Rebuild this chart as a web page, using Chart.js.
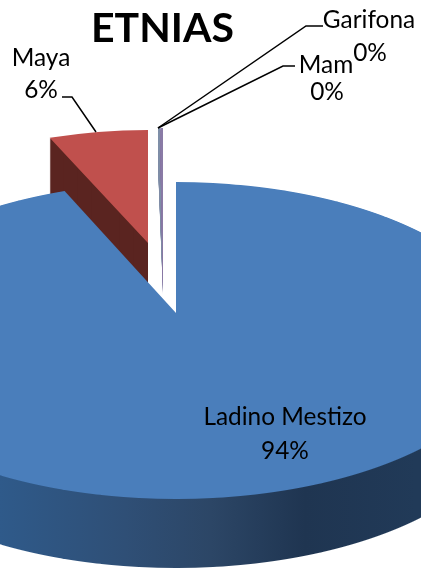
<!DOCTYPE html>
<html>
<head>
<meta charset="utf-8">
<style>
  html, body { margin: 0; padding: 0; background: #fff; overflow: hidden; }
  #pie1 { display: block; }
</style>
<script src="https://cdn.jsdelivr.net/npm/chart.js@4"></script>
</head>
<body>
<canvas id="pie1" width="421" height="569"></canvas>
<script>
var categories = ["Ladino Mestizo", "Maya", "Mam", "Garifona"];
var shares = [93.6, 6.0, 0.2, 0.2];
var sliceColors = ["#4a7ebb", "#c0504d", "#7f8fa8", "#8a7ba6"];
var chartTitle = "ETNIAS";

// perspective of the big slice: apex on screen, then the projective terms
var R = 300, X0 = 176, Y0 = 313, PA = 153.7, PB = 330, PG = -0.1735;
var FRONT_DEPTH = 69;
// flat placement of the exploded slices
var place = {
  1: { x: 148, y: 243, sx: 0.89, sy: 0.377, depth: 56 },
  2: { x: 163, y: 258, sx: 0.67, sy: 0.433, depth: 36 },
  3: { x: 163, y: 258, sx: 0.67, sy: 0.433, depth: 36 }
};
var labelFont = "24.4px Lato";
var labelSpots = {
  0: { name: [285, 417], pct: [285, 451] },
  1: { name: [41, 58], pct: [41, 90] },
  2: { name: [326, 65], pct: [327, 92] },
  3: { name: [369, 20], pct: [370, 53] }
};
var leaders = [
  [[62, 97], [72, 97], [96, 132]],
  [[295, 66], [283, 66], [158, 128]],
  [[323, 26], [306, 26], [158, 128]]
];

function withColor(arc, color, fn) {
  var saved = arc.options;
  var o = Object.create(saved);
  o.backgroundColor = color;
  arc.options = o;
  fn();
  arc.options = saved;
}

// draw an arc in perspective, one screen row at a time
function drawPerspective(ctx, arc, yFrom, yTo, shift) {
  for (var row = yFrom; row < yTo; row++) {
    var d = row + 0.5 - shift - Y0;
    var v = d / (PA - PG * d);
    if (v < -1.05 || v > 1.05) continue;
    var q = 1 + PG * v;
    var sx = PB / (R * q), sy = PA / (q * q * R);
    var Y = arc.y + v * R;
    ctx.save();
    ctx.beginPath();
    ctx.rect(0, row, 421, 1);
    ctx.clip();
    ctx.transform(sx, 0, 0, sy, X0 - sx * arc.x, row + 0.5 - sy * Y);
    arc.draw(ctx);
    ctx.restore();
  }
}

function drawFlat(ctx, arc, p, shift, endAngle) {
  var turn = 1.5 * Math.PI - endAngle;
  ctx.save();
  ctx.translate(p.x, p.y + shift);
  ctx.scale(p.sx, p.sy);
  ctx.rotate(turn);
  ctx.translate(-arc.x, -arc.y);
  arc.draw(ctx);
  ctx.restore();
}

var pie3d = {
  id: "pie3d",
  beforeDatasetDraw: function (chart) {
    var ctx = chart.ctx;
    var arcs = chart.getDatasetMeta(0).data;
    var main = arcs[0];

    // Maya wall, then the top face
    var maya = arcs[1];
    withColor(maya, "#5a2420", function () {
      for (var s = place[1].depth; s > 0; s--) drawFlat(ctx, maya, place[1], s, maya.endAngle);
    });
    drawFlat(ctx, maya, place[1], 0, maya.endAngle);

    // the two hairline slices share one turn so they sit side by side
    var lastEnd = arcs[3].endAngle;
    [2, 3].forEach(function (i) {
      for (var s = place[i].depth; s >= 0; s--) drawFlat(ctx, arcs[i], place[i], s, lastEnd);
    });

    // front wall of the big slice
    var gx = function (px) { return main.x + (px - X0) / 1.3; };
    var wall = ctx.createLinearGradient(gx(0), 0, gx(421), 0);
    wall.addColorStop(0, "#2f5a8a");
    wall.addColorStop(0.3, "#2f4f76");
    wall.addColorStop(0.5, "#2c4666");
    wall.addColorStop(0.72, "#1f3551");
    wall.addColorStop(1, "#213a58");
    withColor(main, wall, function () {
      for (var s = FRONT_DEPTH; s > 0; s--) drawPerspective(ctx, main, 440, 569, s);
    });
    drawPerspective(ctx, main, 170, 510, 0);
    return false;
  },
  afterDatasetsDraw: function (chart) {
    var ctx = chart.ctx;
    ctx.save();
    ctx.strokeStyle = "#000";
    ctx.lineWidth = 1.5;
    leaders.forEach(function (pts) {
      ctx.beginPath();
      pts.forEach(function (p, i) {
        if (i === 0) ctx.moveTo(p[0], p[1]);
        else ctx.lineTo(p[0], p[1]);
      });
      ctx.stroke();
    });
    ctx.fillStyle = "#000";
    ctx.font = labelFont;
    ctx.textAlign = "center";
    ctx.textBaseline = "middle";
    categories.forEach(function (name, i) {
      var spot = labelSpots[i];
      ctx.fillText(name, spot.name[0], spot.name[1]);
      ctx.fillText(Math.round(shares[i]) + "%", spot.pct[0], spot.pct[1]);
    });
    ctx.restore();
  }
};

var pie1e = document.getElementById("pie1");
var pie1 = new Chart(pie1e, {
  type: "pie",
  data: {
    labels: categories,
    datasets: [{
      data: shares,
      backgroundColor: sliceColors,
      borderWidth: 0,
      radius: R
    }]
  },
  options: {
    responsive: false,
    animation: false,
    layout: { padding: { left: 91, top: 4 } },
    plugins: {
      legend: { display: false },
      tooltip: { enabled: false },
      title: {
        display: true,
        text: chartTitle,
        align: "start",
        color: "#000",
        padding: 0,
        font: { family: "Lato", size: 41, weight: "bold" }
      }
    }
  },
  plugins: [pie3d]
});
</script>
</body>
</html>
